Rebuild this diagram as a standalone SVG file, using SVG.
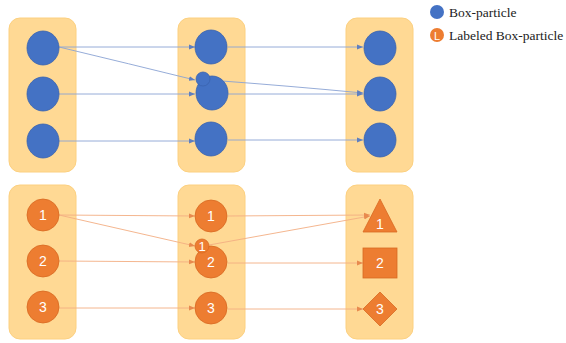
<svg xmlns="http://www.w3.org/2000/svg" width="566" height="343" viewBox="0 0 566 343">
<defs>
<style>
.panel{fill:#FFD994;stroke:#FCD080;stroke-width:1}
.b{fill:#4472C4;stroke:#3A63AE;stroke-width:0.8}
.o{fill:#ED7D31;stroke:#D86A22;stroke-width:0.8}
.bl{stroke:#8AA3D4;stroke-width:0.9;fill:none;marker-end:url(#ab)}
.ol{stroke:#F3AE82;stroke-width:0.9;fill:none;marker-end:url(#ao)}
.num{font-family:"Liberation Sans",Arial,sans-serif;font-size:14px;fill:#FFFFFF;text-anchor:middle}
.leg{font-family:"Liberation Serif","Times New Roman",serif;font-size:13.5px;fill:#222222}
</style>
<marker id="ab" viewBox="0 0 10 10" refX="10" refY="5" markerWidth="6" markerHeight="6" orient="auto" markerUnits="userSpaceOnUse"><path d="M0,1 L10,5 L0,9 z" fill="#5F7FBF"/></marker>
<marker id="ao" viewBox="0 0 10 10" refX="10" refY="5" markerWidth="6" markerHeight="6" orient="auto" markerUnits="userSpaceOnUse"><path d="M0,1 L10,5 L0,9 z" fill="#E88A4E"/></marker>
</defs>
<rect width="566" height="343" fill="#FFFFFF"/>

<g id="panels">
<rect class="panel" x="9" y="18" width="67" height="154" rx="11"/>
<rect class="panel" x="178" y="18" width="67" height="154" rx="11"/>
<rect class="panel" x="346" y="18" width="67" height="154" rx="11"/>
<rect class="panel" x="9" y="185" width="67" height="154" rx="11"/>
<rect class="panel" x="178" y="185" width="67" height="154" rx="11"/>
<rect class="panel" x="346" y="185" width="67" height="154" rx="11"/>
</g>

<g id="connectors">
<line class="bl" x1="59" y1="47" x2="195" y2="47"/>
<path class="bl" d="M59,47 Q130,64 195,80"/>
<line class="bl" x1="59" y1="94" x2="195" y2="94"/>
<line class="bl" x1="59" y1="141" x2="195" y2="141"/>
<line class="bl" x1="228" y1="47" x2="363" y2="47"/>
<path class="bl" d="M209,80 Q290,86 363,93"/>
<line class="bl" x1="228" y1="94" x2="363" y2="94"/>
<line class="bl" x1="228" y1="140" x2="363" y2="140"/>

<line class="ol" x1="59" y1="215" x2="195" y2="216"/>
<line class="ol" x1="59" y1="215" x2="195" y2="246"/>
<line class="ol" x1="59" y1="261" x2="195" y2="262"/>
<line class="ol" x1="59" y1="308" x2="195" y2="308"/>
<line class="ol" x1="228" y1="216" x2="370" y2="215"/>
<line class="ol" x1="209" y1="245" x2="370" y2="216"/>
<line class="ol" x1="228" y1="263" x2="363" y2="263"/>
<line class="ol" x1="228" y1="309" x2="363" y2="309"/>
</g>

<g id="a1"><ellipse class="b" cx="43" cy="48" rx="16" ry="17"/></g>
<g id="a2"><ellipse class="b" cx="43" cy="94" rx="16" ry="17"/></g>
<g id="a3"><ellipse class="b" cx="43" cy="141" rx="16" ry="17"/></g>
<g id="b1"><ellipse class="b" cx="211" cy="47" rx="16" ry="17"/></g>
<g id="b2"><ellipse class="b" cx="212" cy="93" rx="16" ry="17"/></g>
<g id="b2s"><circle class="b" cx="203" cy="79" r="7"/></g>
<g id="b3"><ellipse class="b" cx="211" cy="139" rx="16" ry="17"/></g>
<g id="c1"><ellipse class="b" cx="380" cy="48" rx="16" ry="17"/></g>
<g id="c2"><ellipse class="b" cx="380" cy="94" rx="16" ry="17"/></g>
<g id="c3"><ellipse class="b" cx="380" cy="140" rx="16" ry="17"/></g>

<g id="d1"><ellipse class="o" cx="43" cy="215" rx="16" ry="16"/><text class="num" x="43" y="220">1</text></g>
<g id="d2"><ellipse class="o" cx="43" cy="261" rx="16" ry="16"/><text class="num" x="43" y="266">2</text></g>
<g id="d3"><ellipse class="o" cx="43" cy="307" rx="16" ry="16"/><text class="num" x="43" y="312">3</text></g>
<g id="e1"><ellipse class="o" cx="211" cy="216" rx="16" ry="16"/><text class="num" x="211" y="221">1</text></g>
<g id="e2"><ellipse class="o" cx="211" cy="262" rx="16" ry="16"/><text class="num" x="211" y="267">2</text></g>
<g id="e2s"><circle class="o" cx="202" cy="246" r="7"/><text class="num" x="202" y="251" style="font-size:13px">1</text></g>
<g id="e3"><ellipse class="o" cx="211" cy="308" rx="16" ry="16"/><text class="num" x="211" y="313">3</text></g>
<g id="f1"><polygon class="o" points="380,199 397,232 363,232"/><text class="num" x="380" y="229">1</text></g>
<g id="f2"><rect class="o" x="363" y="248" width="34" height="30"/><text class="num" x="380" y="268">2</text></g>
<g id="f3"><polygon class="o" points="380,292 397,309 380,326 363,309"/><text class="num" x="380" y="314">3</text></g>

<g id="legend">
<circle cx="437" cy="12" r="7" fill="#4472C4"/>
<text class="leg" x="449" y="16.5">Box-particle</text>
<circle cx="437" cy="35" r="7" fill="#ED7D31"/>
<text x="437" y="39.5" style="font-family:'Liberation Sans',Arial,sans-serif;font-size:11px;fill:#FFFFFF;text-anchor:middle">L</text>
<text class="leg" x="449" y="39.5">Labeled Box-particle</text>
</g>
</svg>
